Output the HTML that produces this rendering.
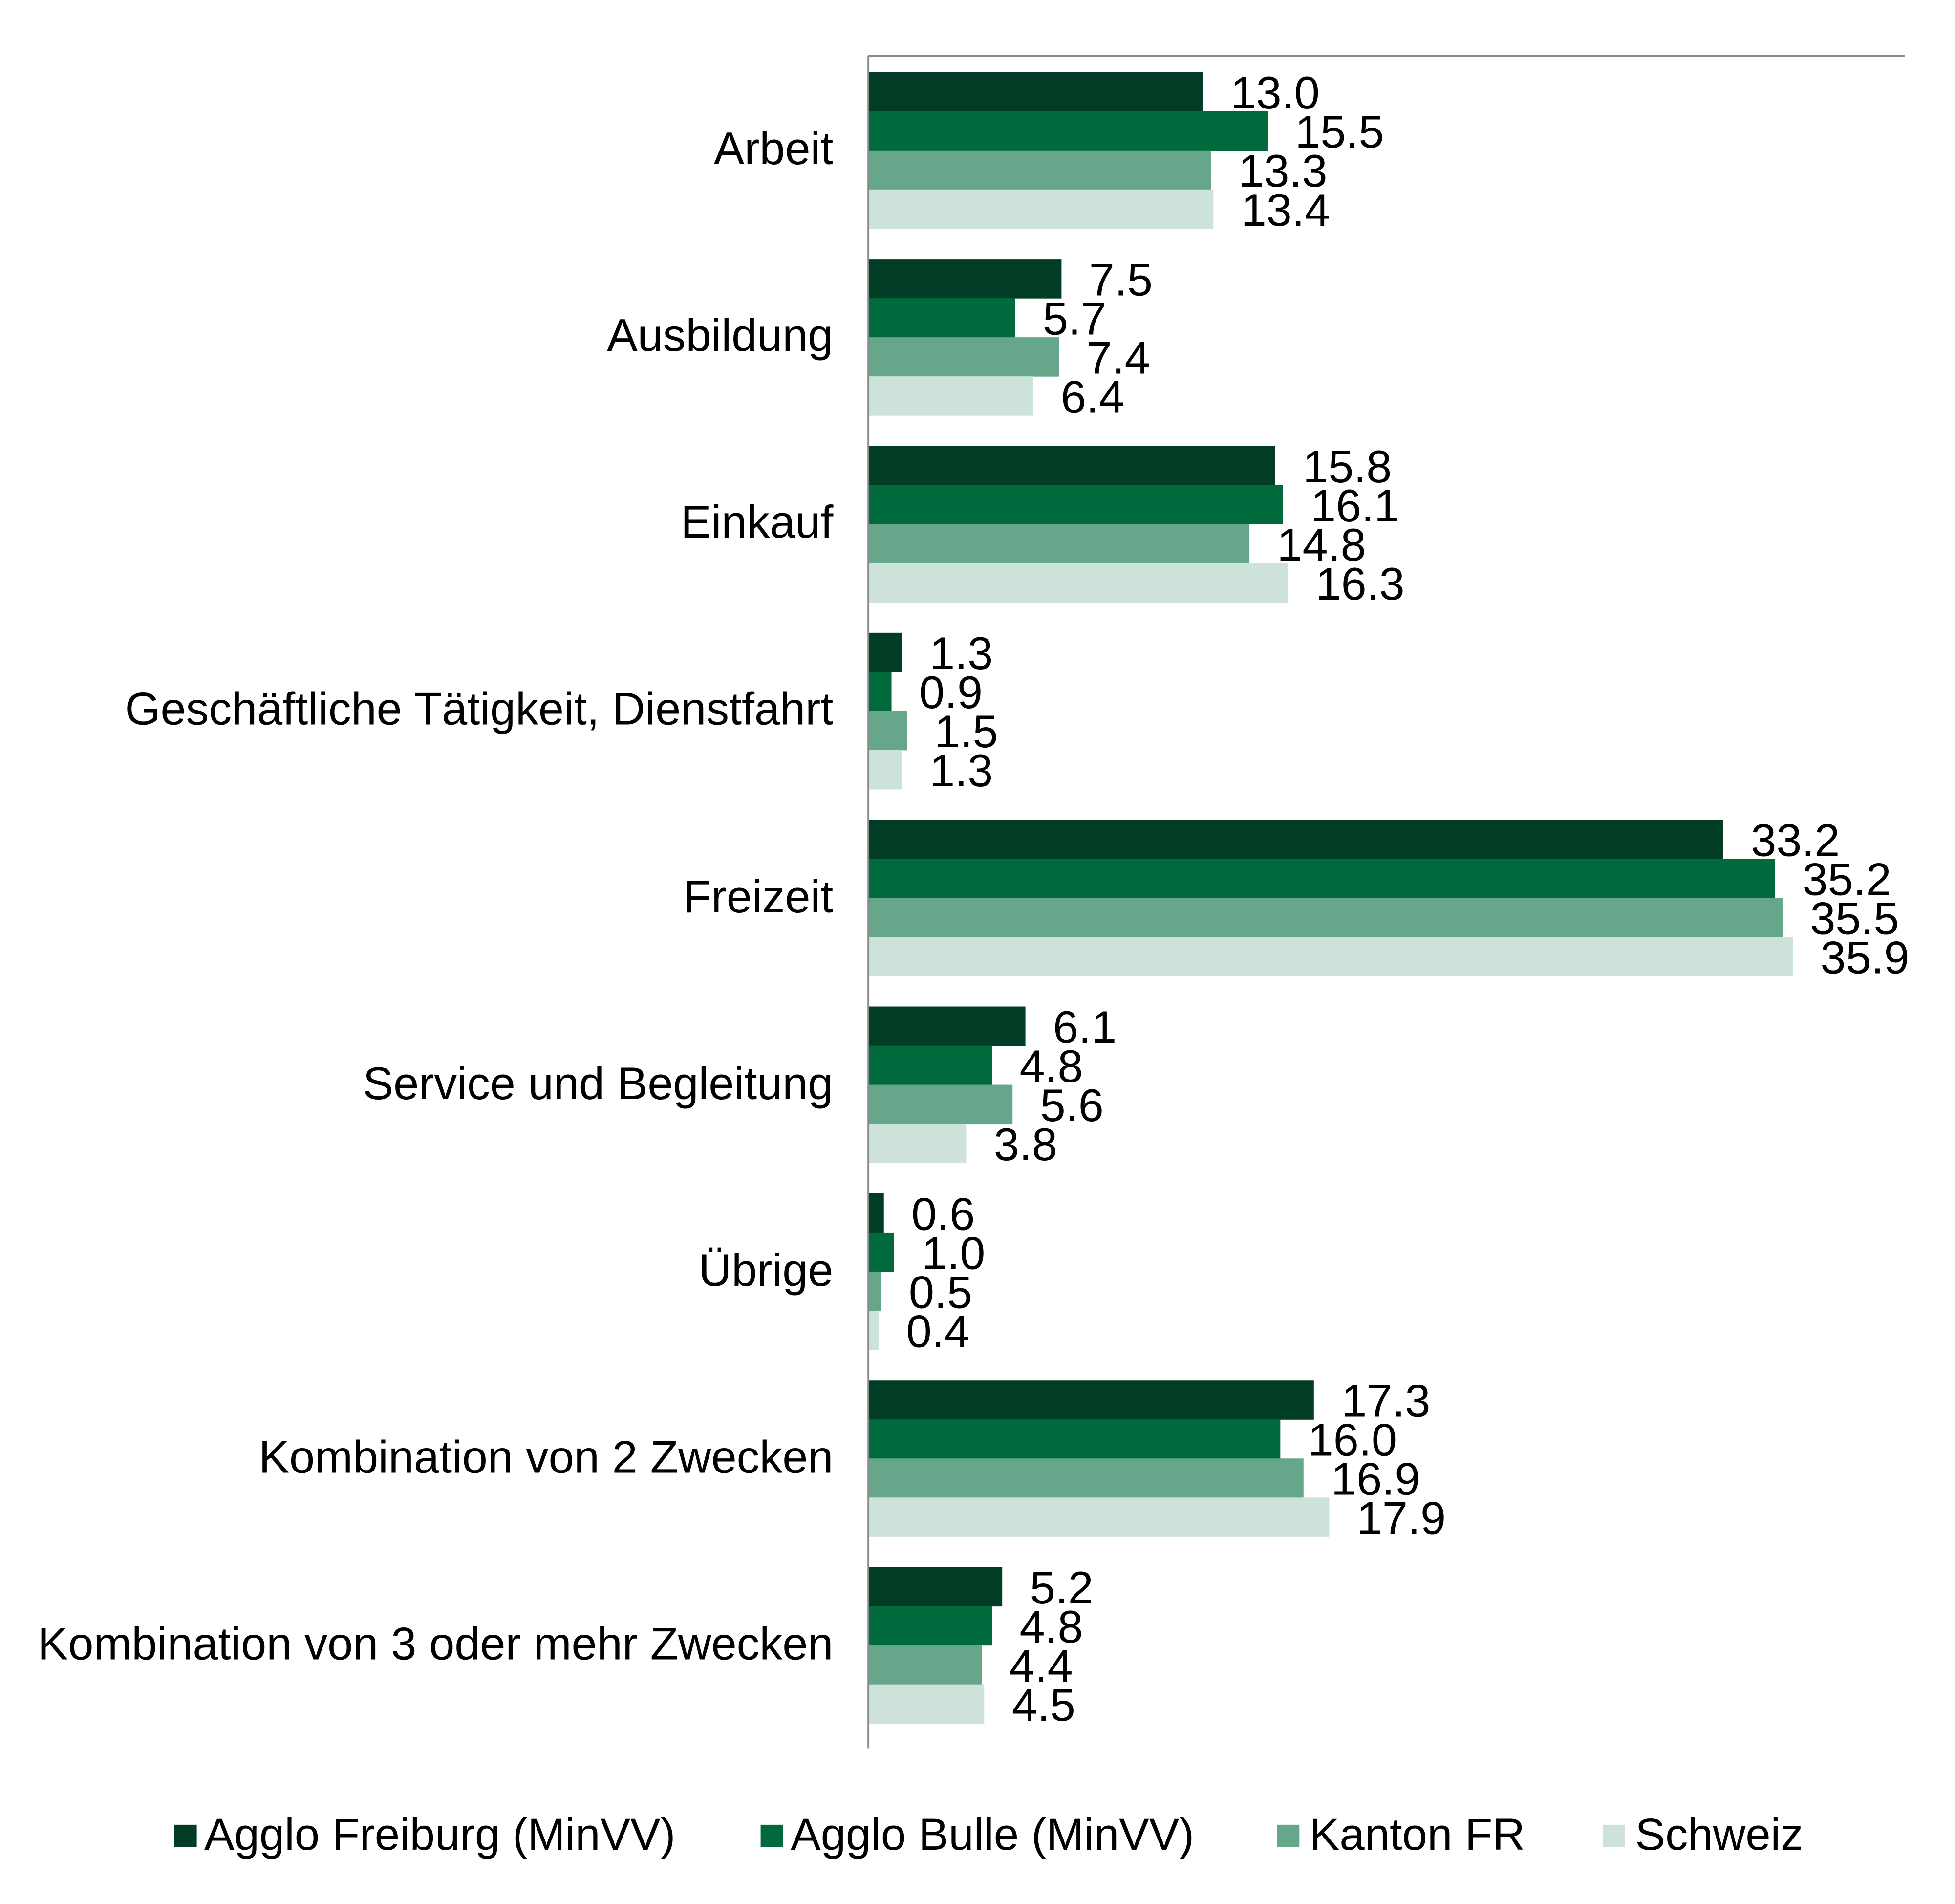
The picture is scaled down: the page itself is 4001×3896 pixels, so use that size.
<!DOCTYPE html>
<html><head><meta charset="utf-8"><style>html,body{margin:0;padding:0;background:#fff}svg{display:block}</style></head>
<body>
<svg xmlns="http://www.w3.org/2000/svg" width="4001" height="3896" viewBox="0 0 1560.2 1519.2" font-family="Liberation Sans, Arial, sans-serif">
<rect width="1560.2" height="1519.2" fill="#fff"/>
<g id="bars"></g>
<line x1="693" y1="44.8" x2="1520" y2="44.8" stroke="#888" stroke-width="1.5"/>
<line x1="693" y1="44.8" x2="693" y2="1395" stroke="#888" stroke-width="1.5"/>
<g font-size="36.5" text-anchor="end" fill="#000">
<text x="665" y="131">Arbeit</text>
<text x="665" y="280">Ausbildung</text>
<text x="665" y="429">Einkauf</text>
<text x="665" y="578">Geschäftliche Tätigkeit, Dienstfahrt</text>
<text x="665" y="728">Freizeit</text>
<text x="665" y="877">Service und Begleitung</text>
<text x="665" y="1026">Übrige</text>
<text x="665" y="1175">Kombination von 2 Zwecken</text>
<text x="665" y="1324">Kombination von 3 oder mehr Zwecken</text>
</g>
<g id="vals" font-size="36.5" fill="#000"></g>
<g font-size="36" fill="#000">
<rect x="139" y="1456" width="18" height="18" fill="#003d24"/><text x="163" y="1476">Agglo Freiburg (MinVV)</text>
<rect x="607" y="1456" width="18" height="18" fill="#006a3c"/><text x="631" y="1476">Agglo Bulle (MinVV)</text>
<rect x="1019" y="1456" width="18" height="18" fill="#66a68a"/><text x="1045" y="1476">Kanton FR</text>
<rect x="1279" y="1456" width="18" height="18" fill="#cde3da"/><text x="1305" y="1476">Schweiz</text>
</g>
<script>
var d=[[13.0,15.5,13.3,13.4],[7.5,5.7,7.4,6.4],[15.8,16.1,14.8,16.3],[1.3,0.9,1.5,1.3],[33.2,35.2,35.5,35.9],[6.1,4.8,5.6,3.8],[0.6,1.0,0.5,0.4],[17.3,16.0,16.9,17.9],[5.2,4.8,4.4,4.5]];
var c=["#003d24","#006a3c","#66a68a","#cde3da"];
var ns="http://www.w3.org/2000/svg",gb=document.getElementById("bars"),gv=document.getElementById("vals");
d.forEach(function(g,i){g.forEach(function(v,j){
var y=57.6+i*149.1+j*31.2,w=v*20.55;
var r=document.createElementNS(ns,"rect");r.setAttribute("x",693);r.setAttribute("y",y);r.setAttribute("width",w);r.setAttribute("height",31.4);r.setAttribute("fill",c[j]);gb.appendChild(r);
var t=document.createElementNS(ns,"text");t.setAttribute("x",693+w+22);t.setAttribute("y",y+29);t.textContent=v.toFixed(1);gv.appendChild(t);
});});
</script>
</svg>
</body></html>
